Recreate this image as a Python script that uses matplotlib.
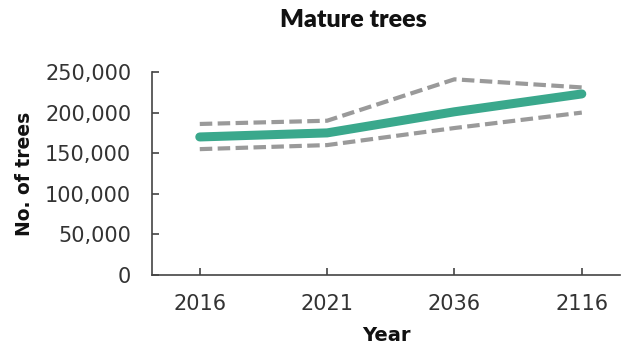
import matplotlib
matplotlib.use("Agg")
import matplotlib.pyplot as plt
from matplotlib.ticker import FuncFormatter

years = ["2016", "2021", "2036", "2116"]
mid = [170000, 175000, 201000, 223000]
upper = [186000, 190000, 241000, 231000]
lower = [155000, 160000, 181000, 200000]

plt.rcParams["font.family"] = ["DejaVu Sans"]

fig = plt.figure(figsize=(6.21, 3.45), dpi=100)
ax = fig.add_axes([0.2448, 0.2029, 0.7536, 0.5884])

x = list(range(len(years)))
ax.plot(x, upper, color="#9a9a9a", lw=3, dashes=(3, 1.3))
ax.plot(x, lower, color="#9a9a9a", lw=3, dashes=(3, 1.3))
ax.plot(x, mid, color="#3aa88c", lw=6.5, solid_capstyle="round")

ax.set_xlim(-0.375, 3.3)
ax.set_ylim(0, 250000)
ax.set_xticks(x)
ax.set_xticklabels(years)
ax.set_yticks(range(0, 250001, 50000))
ax.yaxis.set_major_formatter(FuncFormatter(lambda v, p: f"{int(v):,}"))
for s in ["top", "right"]:
    ax.spines[s].set_visible(False)
for s in ["left", "bottom"]:
    ax.spines[s].set_color("#444444")
    ax.spines[s].set_linewidth(1.2)
ax.tick_params(direction="in", length=5, width=1.2, color="#444444",
               labelsize=15, labelcolor="#333333")
ax.tick_params(axis="x", pad=14)
ax.tick_params(axis="y", pad=15)
ax.set_xlabel("Year", fontsize=14, fontweight="bold", labelpad=8, color="#111111")
ax.set_ylabel("No. of trees", fontsize=13.5, fontweight="bold", labelpad=8, color="#111111")
fig.text(0.569, 0.942, "Mature trees", ha="center", va="center",
         fontsize=18, fontweight="heavy", color="#111111", family="Lato")

fig.savefig("out.png", dpi=100)
